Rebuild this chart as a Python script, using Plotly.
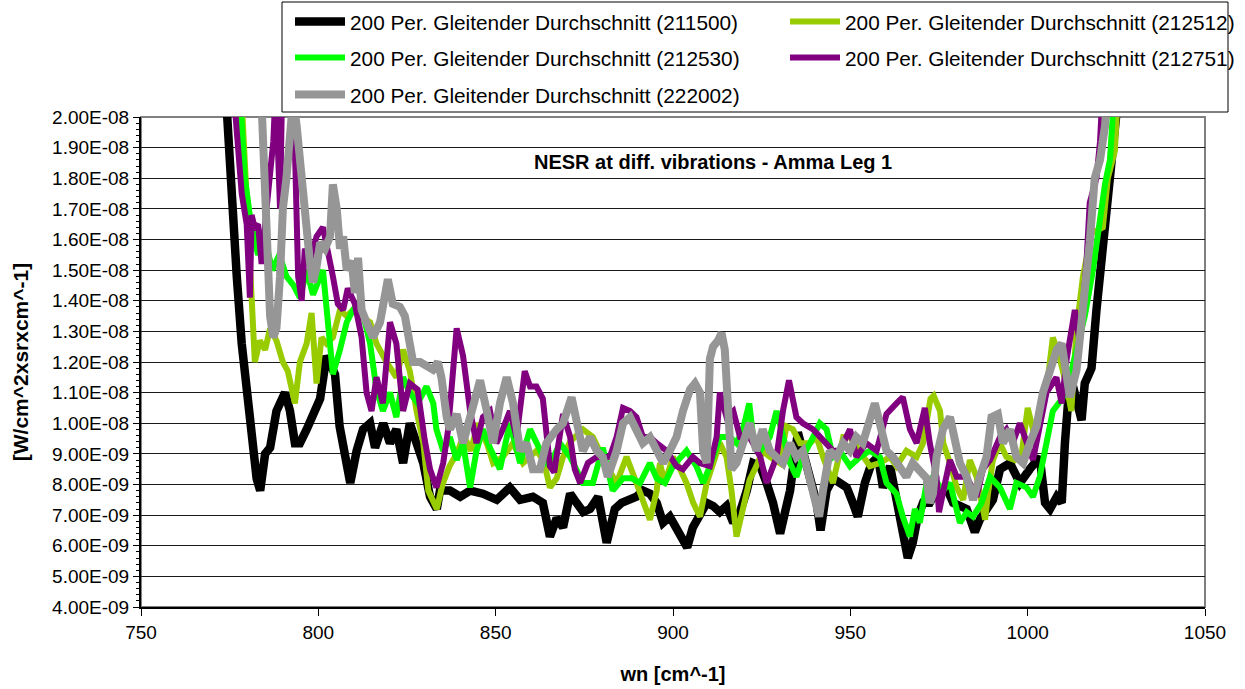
import numpy as np
import plotly.graph_objects as go

# ---------------------------------------------------------------------------
# NESR, 200-period moving average, five vibration runs (values in 1E-09 W/cm^2 sr cm^-1)
# ---------------------------------------------------------------------------
wn_211500 = [773.8, 775.6, 777.0, 778.4, 780.2, 782.6, 783.6, 785.0, 786.4, 788.2,
             790.6, 792.0, 793.4, 794.8, 796.7, 798.6, 800.5, 802.3, 804.7, 806.0,
             807.5, 809.0, 810.8, 812.6, 814.6, 816.0, 818.3, 820.2, 822.0, 823.9,
             825.8, 827.7, 829.6, 831.5, 833.4, 834.3, 837.1, 840.0, 842.8, 846.4,
             850.3, 854.0, 856.9, 860.5, 863.3, 865.3, 867.2, 869.0, 871.0, 872.8,
             874.7, 876.6, 878.9, 881.3, 883.6, 885.5, 887.9, 889.7, 891.5, 893.5,
             895.4, 897.2, 899.1, 901.0, 902.8, 904.0, 905.6, 907.6, 909.5, 911.3,
             913.2, 915.1, 917.0, 918.9, 920.8, 922.6, 924.6, 926.4, 928.2, 930.2,
             931.6, 933.0, 935.2, 936.6, 938.6, 940.5, 941.6, 943.3, 945.1, 947.0,
             949.0, 950.7, 952.1, 954.1, 956.0, 957.8, 959.2, 961.2, 963.0, 964.8,
             966.2, 967.6, 969.0, 970.5, 972.4, 974.3, 977.1, 979.0, 982.8, 985.1,
             986.5, 990.2, 992.2, 995.0, 997.8, 1000.6, 1003.4, 1004.9, 1006.3, 1008.2,
             1009.6, 1010.5, 1011.4, 1012.8, 1015.2, 1016.1, 1018.0, 1019.4, 1020.8, 1022.6,
             1024.0, 1025.0, 1025.8]
nesr_211500 = [21.0, 17.0, 14.8, 12.6, 10.4, 8.2, 7.8, 9.0, 9.2, 10.4,
               11.0, 10.4, 9.35, 9.35, 9.8, 10.4, 10.8, 12.2, 11.6, 9.9,
               8.8, 8.05, 9.1, 9.8, 10.0, 9.2, 10.0, 9.35, 9.8, 8.7,
               10.0, 9.35, 8.7, 7.6, 7.2, 7.8, 7.8, 7.6, 7.8, 7.7,
               7.5, 7.9, 7.5, 7.6, 7.4, 6.3, 6.9, 6.6, 7.7, 7.4,
               7.1, 7.2, 7.6, 6.1, 7.2, 7.4, 7.5, 7.6, 7.8, 7.7,
               7.4, 6.75, 6.95, 6.6, 6.3, 5.95, 6.6, 6.95, 7.4, 7.3,
               7.1, 7.3, 6.75, 7.1, 7.8, 8.7, 8.6, 8.05, 7.4, 6.4,
               7.1, 7.8, 9.7, 9.1, 8.2, 7.4, 6.5, 7.8, 8.2, 8.05,
               7.9, 7.4, 6.95, 8.05, 8.7, 8.9, 7.9, 8.6, 7.4, 6.2,
               5.6, 6.1, 6.95, 7.4, 7.4, 7.8, 7.9, 7.4, 7.2, 6.45,
               6.85, 7.5, 8.5, 8.7, 8.05, 8.5, 8.9, 7.4, 7.2, 7.6,
               7.4, 9.35, 10.7, 11.2, 10.1, 11.3, 11.8, 13.7, 15.3, 17.0,
               18.6, 19.8, 21.0]

wn_212512 = [778.2, 779.8, 781.6, 782.1, 783.5, 785.0, 786.4, 788.2, 790.0, 791.4,
             793.4, 794.8, 796.7, 798.1, 799.5, 800.9, 802.3, 804.1, 806.1, 808.0,
             809.8, 811.7, 814.6, 816.4, 819.2, 822.0, 823.9, 825.8, 827.7, 829.6,
             831.0, 832.4, 833.4, 835.0, 837.0, 839.0, 841.0, 843.0, 845.0, 847.5,
             849.3, 852.0, 854.9, 857.7, 861.5, 863.5, 865.3, 867.2, 869.0, 871.0,
             874.6, 877.4, 881.3, 884.1, 886.9, 889.7, 891.5, 893.5, 895.4, 896.3,
             897.7, 900.0, 902.0, 903.8, 905.7, 907.6, 909.5, 911.3, 913.2, 915.1,
             916.5, 917.9, 919.7, 921.6, 923.5, 925.3, 927.3, 930.1, 932.0, 933.8,
             935.8, 938.6, 940.5, 942.3, 945.1, 948.0, 949.9, 952.7, 955.5, 958.3,
             961.2, 963.0, 965.8, 968.7, 970.5, 972.6, 973.5, 975.3, 976.2, 978.1,
             980.0, 981.8, 983.7, 985.6, 988.0, 988.8, 990.2, 992.2, 994.0, 996.4,
             998.3, 1000.0, 1001.5, 1003.4, 1005.3, 1007.1, 1009.1, 1011.0, 1012.3, 1013.8,
             1015.6, 1018.0, 1021.2, 1022.6, 1024.6, 1025.5]
nesr_212512 = [21.0, 17.2, 12.6, 12.0, 12.7, 12.4, 13.1, 12.7, 12.0, 11.7,
               10.65, 12.0, 12.6, 13.6, 11.3, 12.8, 12.6, 12.8, 13.7, 13.5,
               13.7, 13.5, 13.3, 12.6, 12.0, 11.5, 12.4, 11.7, 10.4, 9.35,
               7.8, 7.4, 7.2, 8.0, 8.6, 9.0, 9.6, 9.1, 10.0, 9.35,
               8.7, 8.9, 9.35, 8.7, 9.1, 8.8, 7.9, 8.2, 8.9, 9.4,
               9.8, 9.55, 8.6, 8.05, 8.9, 8.05, 7.5, 6.85, 7.8, 8.7,
               8.05, 8.9, 8.5, 8.05, 7.4, 6.95, 8.05, 8.7, 9.35, 8.9,
               7.8, 6.3, 7.2, 8.15, 8.6, 9.1, 8.9, 8.7, 9.9, 9.8,
               9.35, 9.35, 9.55, 8.9, 8.05, 9.55, 9.55, 9.1, 8.6, 8.7,
               8.9, 8.6, 9.1, 8.9, 9.35, 10.8, 10.9, 10.4, 9.35, 8.7,
               7.9, 7.5, 8.8, 8.25, 6.85, 7.7, 8.8, 9.35, 8.9, 8.8,
               9.0, 10.5, 9.8, 10.0, 11.1, 12.8, 12.1, 11.2, 10.4, 13.1,
               14.8, 16.2, 16.4, 18.0, 18.9, 21.0]

wn_212530 = [777.8, 779.3, 781.0, 783.0, 785.0, 787.0, 789.0, 791.0, 793.0, 794.8,
             796.7, 798.5, 801.3, 802.3, 804.1, 806.1, 808.0, 809.8, 811.7, 814.6,
             816.4, 818.2, 820.2, 822.0, 823.9, 825.8, 828.0, 830.5, 832.4, 833.3,
             835.2, 837.1, 839.0, 840.8, 842.8, 844.6, 846.4, 848.4, 851.2, 854.0,
             856.9, 859.7, 861.5, 864.3, 866.0, 868.1, 871.0, 874.6, 877.4, 880.2,
             883.0, 885.9, 888.3, 890.7, 893.5, 895.4, 897.7, 900.0, 903.8, 906.6,
             908.5, 910.4, 913.2, 916.0, 917.9, 919.7, 921.5, 922.6, 924.6, 927.3,
             929.2, 931.0, 933.0, 934.8, 936.6, 939.5, 941.4, 943.3, 945.1, 947.0,
             949.9, 952.7, 955.5, 958.3, 960.2, 963.0, 964.8, 966.8, 968.2, 969.6,
             971.5, 973.3, 976.1, 978.1, 979.5, 980.9, 982.8, 984.6, 987.0, 989.4,
             992.2, 995.0, 996.8, 999.7, 1001.5, 1003.4, 1005.3, 1007.1, 1010.0, 1011.9,
             1013.8, 1016.1, 1018.4, 1020.3, 1021.8, 1023.2, 1024.5]
nesr_212530 = [21.0, 18.0, 16.5, 15.5, 16.0, 15.0, 15.5, 14.8, 14.5, 14.1,
               15.0, 14.2, 15.0, 13.7, 11.6, 12.4, 13.3, 13.7, 14.0, 12.6,
               11.1, 10.4, 11.0, 10.2, 11.5, 11.0, 10.65, 11.2, 10.65, 9.8,
               9.1, 9.55, 8.8, 9.35, 7.9, 9.1, 9.8, 9.2, 8.5, 10.0,
               8.7, 9.8, 9.35, 8.7, 8.8, 9.35, 8.9, 8.05, 8.05, 9.2,
               7.8, 8.2, 8.2, 8.05, 8.7, 8.2, 8.05, 8.6, 9.1, 8.6,
               8.05, 8.6, 9.55, 9.55, 9.35, 9.8, 10.65, 9.55, 9.1, 9.55,
               10.4, 9.55, 8.7, 8.25, 8.9, 9.55, 10.0, 9.8, 8.9, 9.1,
               8.6, 8.9, 9.1, 8.9, 8.05, 7.7, 6.95, 6.3, 7.2, 6.75,
               8.05, 8.25, 7.8, 8.05, 7.4, 6.75, 7.1, 6.95, 7.4, 8.25,
               7.9, 7.2, 8.05, 7.9, 7.6, 8.25, 9.35, 10.4, 10.85, 11.5,
               12.4, 13.5, 15.0, 16.6, 17.8, 18.6, 21.0]

wn_212751 = [776.0, 777.4, 778.4, 779.8, 780.7, 781.2, 782.0, 783.0, 784.0, 785.4,
             786.3, 787.3, 788.0, 789.2, 789.8, 791.5, 793.0, 793.8, 794.3, 795.3,
             796.2, 797.6, 799.5, 801.3, 802.7, 804.1, 805.5, 807.0, 808.3, 810.3,
             812.2, 813.6, 815.0, 816.4, 818.2, 820.2, 822.0, 823.9, 825.8, 828.0,
             830.0, 831.5, 833.3, 835.2, 836.6, 838.0, 839.0, 840.8, 842.8, 844.6,
             846.4, 848.4, 850.2, 852.0, 854.0, 855.9, 858.2, 859.7, 861.5, 863.3,
             865.3, 866.5, 868.0, 869.0, 871.0, 872.3, 873.8, 876.0, 878.5, 882.2,
             884.1, 885.9, 887.9, 889.7, 891.5, 893.5, 895.4, 898.2, 901.0, 902.8,
             905.6, 907.6, 910.4, 912.3, 913.2, 915.1, 917.0, 918.9, 921.6, 924.6,
             926.4, 929.2, 931.0, 932.7, 934.8, 936.6, 939.5, 942.3, 945.1, 947.0,
             949.9, 951.7, 954.5, 957.4, 960.2, 963.0, 964.8, 966.8, 968.7, 971.0,
             972.4, 974.3, 975.0, 976.7, 978.1, 980.0, 982.8, 985.6, 987.4, 989.4,
             992.2, 994.0, 995.8, 997.8, 999.7, 1001.5, 1003.4, 1005.3, 1008.1, 1009.6,
             1011.0, 1012.4, 1013.3, 1014.7, 1016.6, 1017.5, 1019.4, 1020.4, 1021.2]
nesr_212751 = [21.0, 19.2, 17.5, 16.5, 14.1, 16.8, 16.4, 16.5, 15.2, 17.0,
               18.0, 19.2, 21.0, 17.0, 21.0, 21.5, 20.8, 17.0, 14.8, 14.0,
               15.7, 15.3, 16.1, 16.4, 15.7, 14.8, 13.9, 13.7, 14.4, 13.9,
               12.8, 11.0, 10.4, 11.5, 10.65, 13.3, 12.6, 10.4, 11.3, 11.1,
               9.45, 8.5, 7.9, 8.7, 9.8, 12.0, 13.1, 12.2, 10.4, 9.35,
               10.2, 10.4, 9.35, 9.8, 10.4, 9.55, 11.7, 11.2, 11.2, 10.8,
               8.6, 8.4, 9.6, 10.3, 9.55, 8.5, 8.05, 8.7, 8.9, 8.9,
               9.55, 10.5, 10.4, 10.2, 9.55, 9.55, 9.35, 9.1, 8.6, 8.5,
               8.9, 8.7, 8.6, 9.55, 11.0, 10.2, 10.4, 9.55, 9.55, 8.9,
               8.05, 8.9, 10.4, 11.4, 10.2, 10.0, 9.8, 9.45, 9.1, 9.1,
               9.8, 8.9, 9.35, 9.1, 10.3, 10.65, 10.85, 9.8, 9.35, 10.5,
               9.35, 8.25, 7.1, 8.05, 8.8, 8.25, 8.25, 7.6, 8.5, 8.8,
               9.55, 9.8, 9.35, 10.0, 9.35, 8.8, 9.9, 11.0, 11.5, 10.65,
               12.1, 13.05, 13.7, 12.6, 15.3, 17.2, 18.0, 19.2, 21.0]

wn_222002 = [783.8, 785.0, 785.8, 786.4, 787.3, 788.2, 789.2, 790.0, 791.0, 792.0,
             792.9, 793.9, 794.8, 795.7, 796.7, 797.6, 798.5, 799.5, 800.5, 801.9,
             803.3, 804.1, 805.2, 806.1, 807.0, 808.0, 809.4, 810.3, 811.2, 812.2,
             813.6, 815.4, 817.4, 819.6, 821.0, 823.0, 824.4, 825.8, 826.7, 828.7,
             830.5, 832.3, 833.7, 834.7, 836.2, 837.1, 839.0, 840.8, 842.8, 845.6,
             847.5, 849.3, 851.2, 853.1, 854.9, 856.9, 858.7, 860.5, 862.5, 864.3,
             867.2, 869.0, 871.4, 872.8, 874.6, 876.6, 878.5, 880.2, 881.6, 884.1,
             885.9, 887.9, 889.7, 891.5, 893.5, 895.4, 897.2, 899.1, 901.0, 902.8,
             904.8, 906.2, 907.6, 908.5, 909.5, 910.4, 911.3, 912.7, 913.7, 914.6,
             915.5, 916.5, 917.9, 919.7, 921.6, 923.5, 925.3, 927.3, 929.2, 931.0,
             933.0, 934.8, 936.6, 938.6, 940.5, 941.2, 942.3, 944.2, 946.1, 948.0,
             949.9, 951.7, 953.5, 955.5, 956.9, 958.3, 960.2, 962.0, 964.0, 965.8,
             967.6, 969.6, 971.5, 972.4, 973.3, 974.3, 976.1, 978.1, 979.5, 980.9,
             982.8, 984.6, 986.5, 988.4, 989.8, 991.6, 993.0, 995.0, 996.8, 998.7,
             1000.6, 1002.5, 1004.3, 1006.3, 1008.2, 1009.6, 1011.0, 1011.9, 1013.8, 1015.6,
             1017.5, 1018.9, 1020.4, 1021.8, 1022.6]
nesr_222002 = [21.0, 17.0, 14.25, 13.5, 12.8, 13.1, 14.8, 17.0, 18.0, 19.7,
               20.6, 19.7, 18.6, 17.0, 16.4, 15.3, 14.6, 15.1, 15.9, 15.7,
               16.1, 17.8, 17.0, 15.7, 16.1, 15.0, 15.3, 14.25, 15.4, 13.7,
               13.3, 12.8, 13.3, 14.7, 13.9, 13.8, 13.5, 12.4, 12.0, 12.0,
               11.85, 11.75, 12.0, 11.5, 10.2, 9.8, 10.3, 9.35, 10.2, 11.4,
               10.4, 9.35, 10.65, 11.5, 10.65, 9.1, 9.35, 8.5, 8.5, 9.35,
               9.8, 10.0, 10.85, 10.0, 9.1, 9.55, 9.1, 8.9, 8.25, 9.1,
               10.0, 10.2, 9.8, 9.35, 9.55, 9.1, 8.7, 9.1, 9.55, 10.4,
               11.1, 11.3, 11.0, 9.1, 8.7, 12.1, 12.5, 12.7, 12.95, 12.4,
               10.0, 8.5, 8.7, 9.35, 10.0, 9.1, 9.8, 9.1, 8.9, 8.7,
               9.35, 8.9, 9.1, 8.25, 7.2, 6.95, 7.8, 9.1, 8.9, 9.35,
               9.1, 9.55, 9.35, 10.0, 10.65, 10.0, 9.1, 8.9, 8.6, 8.25,
               8.7, 8.4, 8.2, 7.4, 7.7, 8.9, 9.8, 10.2, 9.35, 8.7,
               8.25, 7.5, 8.25, 8.9, 10.2, 10.3, 9.35, 9.8, 8.9, 8.7,
               9.35, 9.9, 11.0, 11.75, 12.4, 12.6, 11.5, 10.85, 11.75, 13.7,
               15.9, 18.0, 18.6, 19.7, 21.0]

series_names = ["200 Per. Gleitender Durchschnitt (211500)",
                "200 Per. Gleitender Durchschnitt (212512)",
                "200 Per. Gleitender Durchschnitt (212530)",
                "200 Per. Gleitender Durchschnitt (212751)",
                "200 Per. Gleitender Durchschnitt (222002)"]
series_wn = [wn_211500, wn_212512, wn_212530, wn_212751, wn_222002]
series_nesr = [nesr_211500, nesr_212512, nesr_212530, nesr_212751, nesr_222002]
series_colors = ["#000000", "#99CC00", "#00FF00", "#800080", "#969696"]
series_widths = [8.5, 6, 6, 6, 8]
series_legends = ["legend", "legend", "legend2", "legend2", "legend3"]

x_ticks = [750, 800, 850, 900, 950, 1000, 1050]
y_ticks = [v * 1e-9 for v in range(4, 21)]
y_ticktext = [f"{v:.2E}" for v in y_ticks]

chart_note = "NESR at diff. vibrations - Amma Leg 1"
x_title = "wn [cm^-1]"
y_title = "[W/cm^2xsrxcm^-1]"

# ---------------------------------------------------------------------------
W, H = 1245, 689
ML, MR, MT, MB = 141, 40, 117, 82
PW, PH = W - ML - MR, H - MT - MB
FONT = "Liberation Sans, Arial, sans-serif"


def px_to_paper(xp, yp):
    return (xp - ML) / PW, (H - MB - yp) / PH


fig = go.Figure()
for name, xs, ys, col, lw, lg in zip(series_names, series_wn, series_nesr,
                                     series_colors, series_widths, series_legends):
    fig.add_trace(go.Scatter(
        x=xs, y=np.array(ys) * 1e-9, mode="lines", name=name,
        line=dict(color=col, width=lw), legend=lg,
    ))

# legend frame drawn around the three legend rows
bx0, by1 = px_to_paper(282, 2)
bx1, by0 = px_to_paper(1228, 112)
fig.add_shape(type="rect", xref="paper", yref="paper", x0=bx0, x1=bx1, y0=by0, y1=by1,
              line=dict(color="#000000", width=1), fillcolor="white", layer="above")
# plot-area frame (grey), under the traces
fig.add_shape(type="rect", xref="paper", yref="paper", x0=0, x1=1, y0=0, y1=1,
              line=dict(color="#808080", width=2), layer="between")

fig.add_annotation(text=chart_note, xref="paper", yref="paper",
                   x=px_to_paper(713, 0)[0], y=px_to_paper(0, 162)[1],
                   xanchor="center", yanchor="middle", showarrow=False,
                   font=dict(family=FONT, size=20, color="black", weight="bold"))

leg_common = dict(orientation="h", xref="container", yref="container",
                  xanchor="left", yanchor="middle", bgcolor="rgba(0,0,0,0)",
                  borderwidth=0, entrywidth=430, entrywidthmode="pixels",
                  itemwidth=50,
                  font=dict(family=FONT, size=20.8, color="black"))

fig.update_layout(
    width=W, height=H,
    margin=dict(l=ML, r=MR, t=MT, b=MB, autoexpand=False),
    paper_bgcolor="white", plot_bgcolor="white",
    showlegend=True,
    legend=dict(x=290 / W, y=1 - 22 / H, **leg_common),
    legend2=dict(x=290 / W, y=1 - 58 / H, **leg_common),
    legend3=dict(x=290 / W, y=1 - 95 / H, **leg_common),
    xaxis=dict(range=[750, 1050], tickmode="array", tickvals=x_ticks,
               ticks="outside", ticklen=7, tickwidth=1, tickcolor="black",
               showline=True, linecolor="black", linewidth=2,
               showgrid=False, zeroline=False,
               tickfont=dict(family=FONT, size=19, color="black"),
               title=dict(text=x_title, standoff=25,
                          font=dict(family=FONT, size=20, color="black", weight="bold"))),
    yaxis=dict(range=[4e-9, 2e-8], tickmode="array", tickvals=y_ticks, ticktext=y_ticktext,
               ticks="outside", ticklen=6, tickwidth=1, tickcolor="black",
               minor=dict(tickmode="linear", tick0=4e-9, dtick=2e-10, ticks="outside",
                          ticklen=3, tickcolor="black", showgrid=False),
               showline=True, linecolor="black", linewidth=2,
               showgrid=True, gridcolor="#1a1a1a", gridwidth=1, zeroline=False,
               tickfont=dict(family=FONT, size=19, color="black"),
               title=dict(text=y_title, standoff=18,
                          font=dict(family=FONT, size=21, color="black", weight="bold"))),
)

fig.write_html("out.html")
